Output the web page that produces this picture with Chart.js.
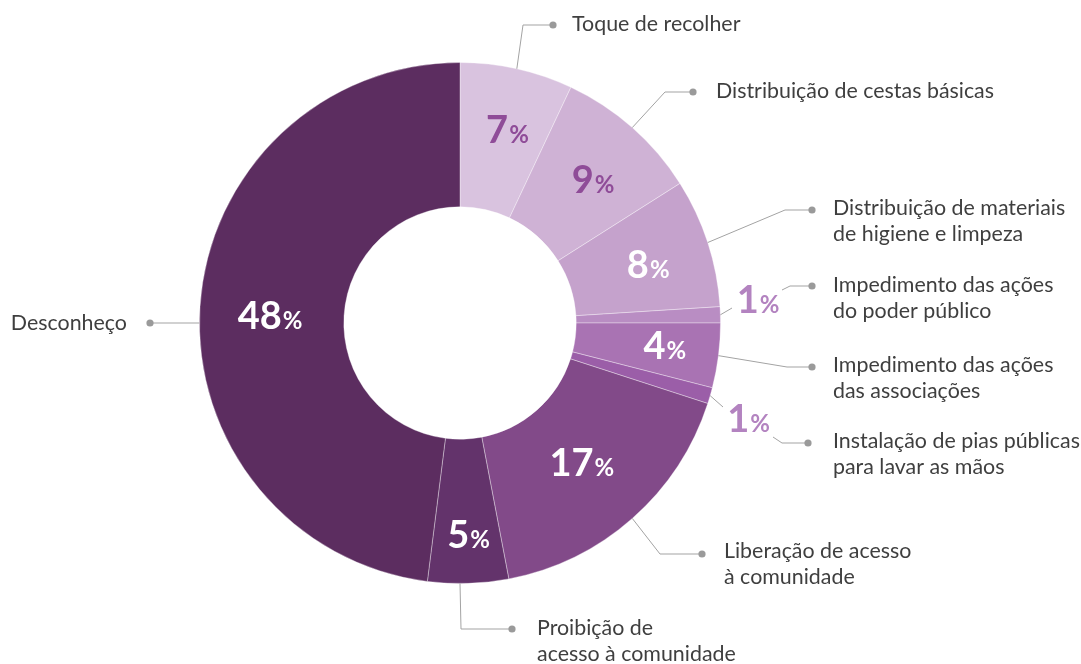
<!DOCTYPE html>
<html>
<head>
<meta charset="utf-8">
<script src="https://cdn.jsdelivr.net/npm/chart.js@4/dist/chart.umd.min.js"></script>
<style>
  html, body { margin: 0; padding: 0; background: #ffffff; }
  #wrap { width: 1081px; height: 664px; position: relative; }
</style>
</head>
<body>
<div id="wrap"><canvas id="c" width="1081" height="664"></canvas></div>
<script>
const categories = [
  "Toque de recolher",
  "Distribuição de cestas básicas",
  "Distribuição de materiais|de higiene e limpeza",
  "Impedimento das ações|do poder público",
  "Impedimento das ações|das associações",
  "Instalação de pias públicas|para lavar as mãos",
  "Liberação de acesso|à comunidade",
  "Proibição de|acesso à comunidade",
  "Desconheço"
];
const values = [7, 9, 8, 1, 4, 1, 17, 5, 48];
const sliceColors = ["#d9c3df", "#cfb2d5", "#c5a2cc", "#b98dc3", "#a973b3", "#9b5ea8", "#824a89", "#63336b", "#5c2d60"];
const pctColors = ["#8f4c98", "#8f4c98", "#ffffff", "#b383c0", "#ffffff", "#b383c0", "#ffffff", "#ffffff", "#ffffff"];

// label placement (radius px from centre, angle tweak in degrees from the slice mid-angle)
const pctPlace = [
  {r: 199, da: 1.2}, {r: 196, da: 1.4}, {r: 197, da: 0.8}, {r: 299, da: -2.7},
  {r: 206, da: -0.9}, {r: 304, da: 2.1}, {r: 185, da: 0.2}, {r: 212, da: -0.5}, {r: 190, da: -1.3}
];
// leader lines: offsets from chart centre
const callouts = [
  {paths: [[[63,-298],[93,-298]]], tx: 112, ty: -299},
  {paths: [[[205,-231],[233,-231]]], tx: 256, ty: -232},
  {paths: [[[325,-113],[352,-113]]], tx: 373, ty: -115},
  {paths: [[[272,-15]], [[322,-33],[330,-37],[352,-37]]], tx: 373, ty: -38},
  {paths: [[[327,44],[352,44]]], tx: 373, ty: 42},
  {paths: [[[263,84]], [[313,114],[322,120],[348,120]]], tx: 373, ty: 118},
  {paths: [[[200,231],[242,231]]], tx: 264, ty: 228},
  {start: 180, paths: [[[1,306],[52,306]]], tx: 77, ty: 305},
  {start: 270, paths: [[[-310,0]]], tx: -333, ty: 0, align: "right"}
];

const calloutPlugin = {
  id: "callouts",
  afterDatasetsDraw(chart) {
    const ctx = chart.ctx;
    const meta = chart.getDatasetMeta(0);
    ctx.save();
    meta.data.forEach((arc, i) => {
      const p = arc.getProps(["x","y","startAngle","endAngle","innerRadius","outerRadius"], true);
      const cx = p.x, cy = p.y;
      const mid = (p.startAngle + p.endAngle) / 2;
      const co = callouts[i];
      ctx.strokeStyle = "#a3a3a3";
      ctx.lineWidth = 1;
      let sa = mid;
      if (co.start !== undefined) sa = (co.start - 90) * Math.PI / 180;
      const sx = cx + p.outerRadius * Math.cos(sa);
      const sy = cy + p.outerRadius * Math.sin(sa);
      co.paths.forEach((path, k) => {
        ctx.beginPath();
        if (k === 0) {
          ctx.moveTo(sx, sy);
          path.forEach(pt => ctx.lineTo(cx + pt[0], cy + pt[1]));
        } else {
          ctx.moveTo(cx + path[0][0], cy + path[0][1]);
          path.slice(1).forEach(pt => ctx.lineTo(cx + pt[0], cy + pt[1]));
        }
        ctx.stroke();
      });
      const last = co.paths[co.paths.length - 1];
      const dot = last[last.length - 1];
      ctx.fillStyle = "#9a9a9a";
      ctx.beginPath();
      ctx.arc(cx + dot[0], cy + dot[1], 3.6, 0, Math.PI * 2);
      ctx.fill();
      ctx.fillStyle = "#3f3f3f";
      ctx.font = "21.4px Lato";
      ctx.textBaseline = "middle";
      ctx.textAlign = co.align || "left";
      categories[i].split("|").forEach((line, li) => {
        ctx.fillText(line, cx + co.tx, cy + co.ty + li * 26);
      });
      const pl = pctPlace[i];
      const a = mid + pl.da * Math.PI / 180;
      const lx = cx + pl.r * Math.cos(a);
      const ly = cy + pl.r * Math.sin(a);
      const num = String(values[i]);
      ctx.font = "bold 38px Lato";
      const wn = ctx.measureText(num).width;
      ctx.font = "bold 24px Lato";
      const wp = ctx.measureText("%").width;
      const gap = 1;
      const total = wn + gap + wp;
      const x0 = lx - total / 2;
      const base = ly + 13.5;
      ctx.textAlign = "left";
      ctx.textBaseline = "alphabetic";
      ctx.fillStyle = pctColors[i];
      ctx.font = "bold 38px Lato";
      ctx.fillText(num, x0, base);
      ctx.font = "bold 24px Lato";
      ctx.fillText("%", x0 + wn + gap, base);
    });
    ctx.restore();
  }
};

new Chart(document.getElementById("c"), {
  type: "doughnut",
  data: {
    labels: categories.map(c => c.replace("|", " ")),
    datasets: [{
      data: values,
      backgroundColor: sliceColors,
      borderColor: "rgba(255,255,255,0.35)",
      borderWidth: 1,
      hoverOffset: 0
    }]
  },
  options: {
    responsive: false,
    animation: false,
    cutout: "44.6%",
    layout: { padding: { left: 199, right: 360, top: 62, bottom: 80 } },
    plugins: {
      legend: { display: false },
      tooltip: { enabled: false }
    },
    events: []
  },
  plugins: [calloutPlugin]
});
</script>
</body>
</html>
